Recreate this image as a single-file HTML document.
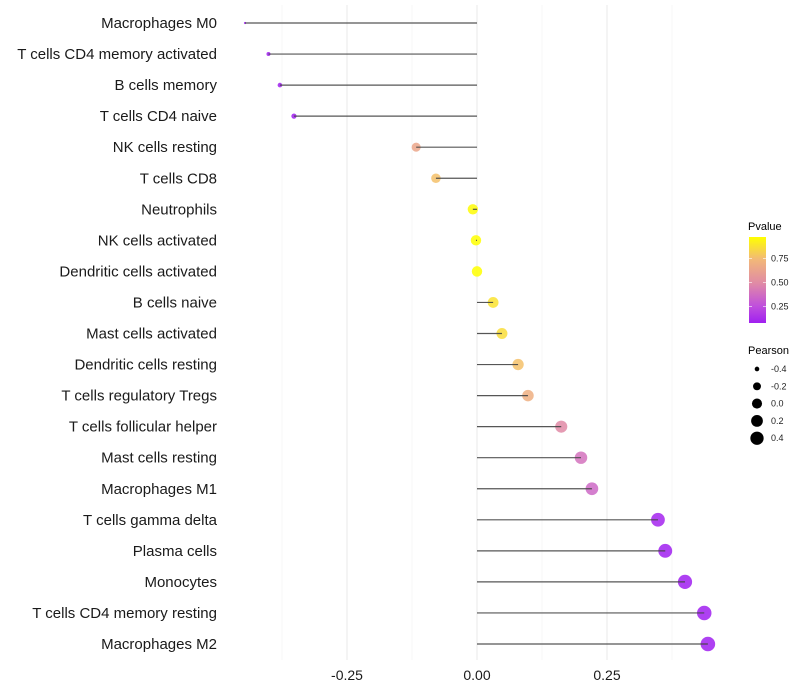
<!DOCTYPE html>
<html><head><meta charset="utf-8"><style>
body{margin:0;background:#fff;font-family:"Liberation Sans",sans-serif}
svg{display:block}
</style></head><body>
<svg id="chart" width="800" height="700" xmlns="http://www.w3.org/2000/svg">
<defs><linearGradient id="pg" x1="0" y1="1" x2="0" y2="0">
<stop offset="0" stop-color="#a020f0"/><stop offset="0.2" stop-color="#c050dc"/><stop offset="0.46" stop-color="#e08aa6"/><stop offset="0.74" stop-color="#f2b878"/><stop offset="1" stop-color="#ffff00"/>
</linearGradient></defs>
<g id="grid"></g>
<g id="dots"></g>
<g id="marks"></g>
<g id="ylabels"></g>
<g id="xlabels"></g>
<g>
<text x="748" y="230" font-size="11" fill="#000">Pvalue</text>
<rect x="749" y="237" width="17" height="86" fill="url(#pg)"/>
<g id="cbticks"></g>
</g>
<g id="sizeleg">
<text x="748" y="354" font-size="11" fill="#000">Pearson</text>
</g>
</svg>
<script>
const categories=["Macrophages M0","T cells CD4 memory activated","B cells memory","T cells CD4 naive","NK cells resting","T cells CD8","Neutrophils","NK cells activated","Dendritic cells activated","B cells naive","Mast cells activated","Dendritic cells resting","T cells regulatory  Tregs ","T cells follicular helper","Mast cells resting","Macrophages M1","T cells gamma delta","Plasma cells","Monocytes","T cells CD4 memory resting","Macrophages M2"];
const pearson=[-0.446,-0.401,-0.379,-0.352,-0.117,-0.079,-0.008,-0.002,0.0,0.031,0.048,0.079,0.098,0.162,0.2,0.221,0.348,0.362,0.4,0.437,0.444];
const pvalues=[0.02,0.04,0.05,0.07,0.65,0.78,0.99,1.0,1.0,0.9,0.88,0.78,0.7,0.5,0.4,0.36,0.1,0.08,0.06,0.04,0.03];
const xTicks=[-0.25,0,0.25];
const xTickLabels=["-0.25","0.00","0.25"];
const pTicks=[0.25,0.5,0.75];
const sizeLegend=[-0.4,-0.2,0.0,0.2,0.4];
const NS="http://www.w3.org/2000/svg";
const X=v=>477+v*520;
const Y=i=>23+i*31.05;
const PY=p=>323-(p-0.08)*96;
const pmin=-0.446,pmax=0.444;
const R=v=>Math.sqrt(1.4+Math.max(0,(v-pmin)/(pmax-pmin))*(53-1.4));
const stops=[[0.08,[160,32,240]],[0.26,[192,80,220]],[0.5,[224,138,166]],[0.75,[242,184,120]],[1.0,[255,255,0]]];
function col(p){p=Math.max(0.08,Math.min(1,p));for(let k=1;k<stops.length;k++){if(p<=stops[k][0]){const a=stops[k-1],b=stops[k];const u=(p-a[0])/(b[0]-a[0]);return `rgb(${a[1].map((x,j)=>Math.round(x+(b[1][j]-x)*u)).join(',')})`}}return 'rgb(255,255,0)'}
function mk(tag,attrs,parent){const e=document.createElementNS(NS,tag);for(const k in attrs)e.setAttribute(k,attrs[k]);parent.appendChild(e);return e}
const grid=document.getElementById('grid');
[-0.375,-0.125,0.125,0.375].forEach(v=>{const l=mk('line',{x1:X(v),x2:X(v),y1:5,y2:660,stroke:'#f2f2f2','stroke-width':0.6},grid);

});
xTicks.forEach(v=>{const l=mk('line',{x1:X(v),x2:X(v),y1:5,y2:660,stroke:'#ebebeb','stroke-width':1.1},grid);

});
const marks=document.getElementById('marks'),dots=document.getElementById('dots'),yl=document.getElementById('ylabels'),xl=document.getElementById('xlabels');
categories.forEach((c,i)=>{const y=Y(i);
const d=mk('circle',{cx:X(pearson[i]),cy:y,r:R(pearson[i]),fill:col(pvalues[i]),'fill-opacity':0.85},dots);


const l=mk('line',{x1:X(0),x2:X(pearson[i]),y1:y,y2:y,stroke:'#444','stroke-width':1.2,'stroke-opacity':0.9},marks);


const t=mk('text',{x:217,y:y+5,'text-anchor':'end','font-size':15,fill:'#1a1a1a'},yl);t.textContent=c;

});
xTicks.forEach((v,i)=>{const t=mk('text',{x:X(v),y:680,'text-anchor':'middle','font-size':14,fill:'#1a1a1a'},xl);t.textContent=xTickLabels[i];

});
const cb=document.getElementById('cbticks');
pTicks.forEach(p=>{const y=PY(p);mk('line',{x1:749,x2:752,y1:y,y2:y,stroke:'#fff','stroke-width':0.6},cb);mk('line',{x1:763,x2:766,y1:y,y2:y,stroke:'#fff','stroke-width':0.6},cb);
const t=mk('text',{x:771,y:y+3,'font-size':9,fill:'#222'},cb);t.textContent=p.toFixed(2);

});
const sl=document.getElementById('sizeleg');
sizeLegend.forEach((v,i)=>{const y=369+i*17.3;const c=mk('circle',{cx:757,cy:y,r:R(v)*0.85+0.6,fill:'#000'},sl);


const t=mk('text',{x:771,y:y+3,'font-size':9,fill:'#222'},sl);t.textContent=v.toFixed(1);

});
</script>
</body></html>
